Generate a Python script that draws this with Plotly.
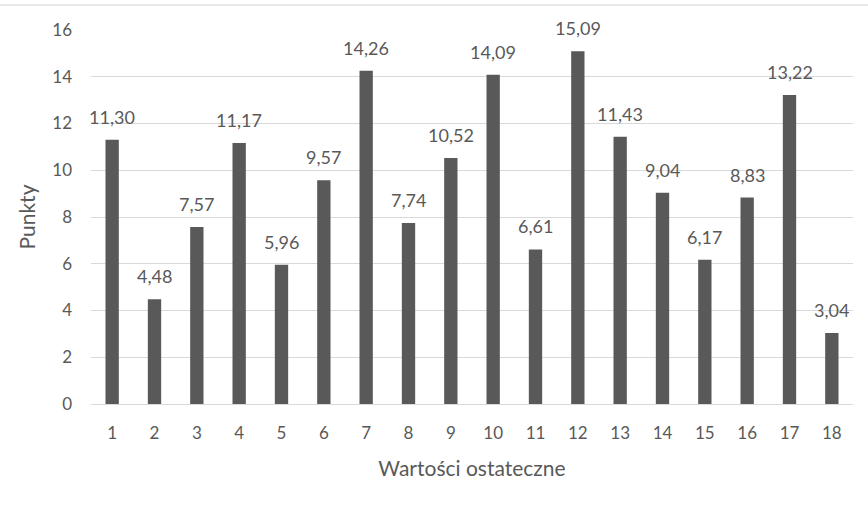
import plotly.graph_objects as go

categories = list(range(1, 19))
values = [11.30, 4.48, 7.57, 11.17, 5.96, 9.57, 14.26, 7.74, 10.52, 14.09,
          6.61, 15.09, 11.43, 9.04, 6.17, 8.83, 13.22, 3.04]
y_ticks = [0, 2, 4, 6, 8, 10, 12, 14, 16]

FONT = "Lato, Open Sans, sans-serif"
GRAY = "#595959"

fig = go.Figure(go.Bar(
    x=categories,
    y=values,
    marker=dict(color=GRAY, line=dict(width=0)),
    cliponaxis=False,
))

# value labels above each bar, Polish decimal comma
labels = [dict(
    x=c, y=v, xref="x", yref="y",
    text=f"{v:.2f}".replace(".", ","),
    showarrow=False, yanchor="bottom", yshift=10,
    font=dict(family=FONT, size=18, color=GRAY),
) for c, v in zip(categories, values)]

fig.update_layout(
    width=868,
    height=506,
    margin=dict(l=91, r=15, t=30, b=102),
    paper_bgcolor="white",
    plot_bgcolor="white",
    bargap=0.685,
    showlegend=False,
    font=dict(family=FONT, size=16, color=GRAY),
    annotations=labels,
    xaxis=dict(
        title=dict(text="Wartości ostateczne", font=dict(size=21, color=GRAY), standoff=18),
        type="linear",
        range=[0.5, 18.5],
        tickvals=categories,
        showgrid=False,
        zeroline=False,
        showline=True,
        linecolor="#d9d9d9",
        linewidth=1,
        ticks="",
        ticklabelstandoff=14,
        tickfont=dict(size=17, color=GRAY),
    ),
    yaxis=dict(
        title=dict(text="Punkty", font=dict(size=21, color=GRAY), standoff=10),
        range=[0, 16],
        tickvals=y_ticks,
        showgrid=True,
        gridcolor="#d9d9d9",
        gridwidth=1,
        zeroline=False,
        ticks="",
        ticklabelstandoff=18,
        tickfont=dict(size=17, color=GRAY),
    ),
    shapes=[dict(
        type="line", xref="paper", yref="paper",
        x0=-0.13, x1=1.03, y0=1.067, y1=1.067,
        line=dict(color="#e3e3e3", width=1.5),
    )],
)

fig.write_html("out.html")
